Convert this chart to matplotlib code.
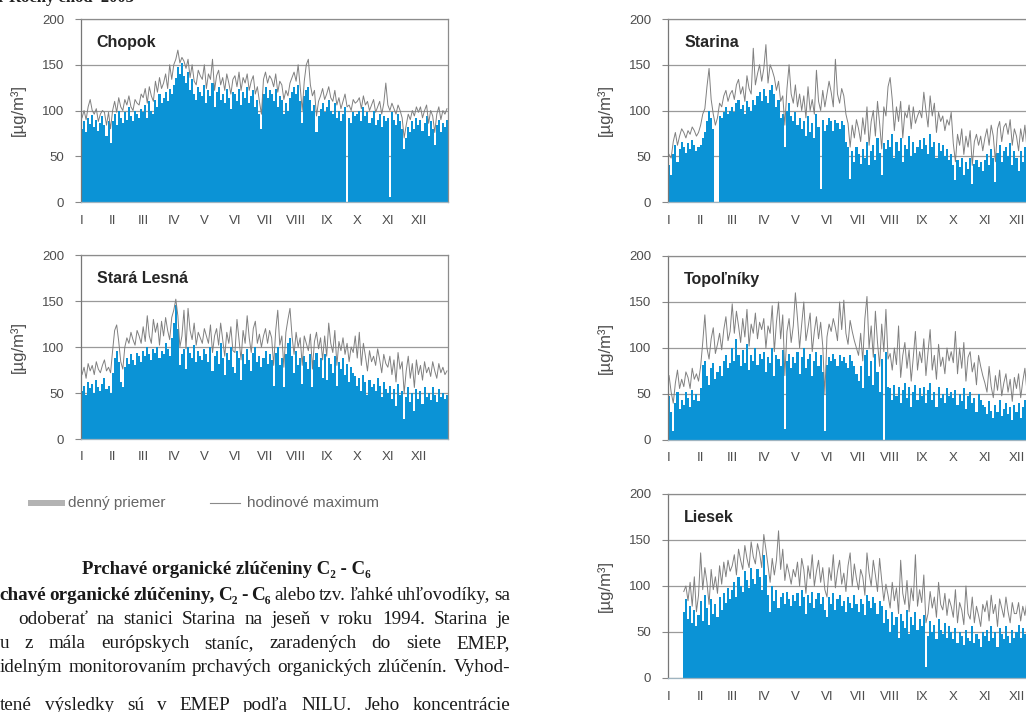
import numpy as np
import matplotlib.pyplot as plt

# Ročný chod 2003 - denný priemer (mean) a hodinové maximum (max), ~2-dňové kroky
months = ['I', 'II', 'III', 'IV', 'V', 'VI', 'VII', 'VIII', 'IX', 'X', 'XI', 'XII']

chopok_mean = [
    80, 88, 76, 92, 85, 95, 82, 90, 78, 86, 94, 84, 72, 88, 65,
    88, 96, 84, 100, 92, 86, 98, 90, 104, 94, 88, 100, 96, 92, 102,
    98, 106, 92, 110, 100, 96, 112, 104, 118, 108, 114, 120, 110, 124, 118,
    128, 136, 148, 140, 152, 138, 130, 142, 122, 134, 118, 112, 126, 120, 116,
    128, 108, 122, 116, 130, 104, 120, 126, 112, 118, 108, 124, 114, 102, 120,
    118, 110, 124, 106, 120, 114, 126, 108, 116, 122, 104, 112, 96, 80, 118,
    126, 114, 122, 118, 110, 124, 104, 116, 112, 96, 108, 100, 114, 120, 126,
    118, 128, 110, 86, 116, 122, 126, 112, 100, 106, 76, 94, 102, 108, 98,
    104, 112, 100, 96, 108, 92, 100, 88, 96, 104, 0, 92, 86, 98, 94,
    96, 100, 88, 104, 94, 98, 86, 92, 100, 84, 90, 96, 82, 94, 88,
    92, 6, 98, 90, 84, 96, 88, 80, 58, 70, 82, 76, 88, 80, 92,
    84, 90, 78, 86, 94, 72, 88, 80, 62, 84, 90, 76, 86, 82, 90]
chopok_max = [
    92, 100, 90, 104, 112, 100, 96, 102, 88, 96, 100, 98, 84, 98, 80,
    100, 110, 98, 114, 104, 100, 112, 106, 116, 104, 100, 112, 108, 106, 118,
    114, 124, 108, 126, 116, 110, 132, 120, 136, 124, 130, 140, 124, 150, 134,
    150, 156, 166, 152, 158, 154, 146, 156, 136, 150, 132, 128, 144, 138, 134,
    150, 124, 140, 134, 156, 122, 138, 144, 128, 136, 122, 140, 130, 118, 134,
    138, 126, 142, 122, 136, 130, 140, 122, 132, 138, 118, 126, 110, 96, 134,
    142, 130, 138, 134, 126, 140, 120, 132, 128, 112, 122, 116, 130, 136, 142,
    132, 150, 126, 100, 132, 150, 156, 128, 116, 122, 94, 110, 116, 124, 112,
    118, 126, 114, 110, 122, 106, 114, 102, 110, 118, 104, 106, 100, 112, 108,
    110, 114, 102, 116, 106, 110, 100, 106, 112, 98, 104, 110, 96, 108, 130,
    106, 100, 108, 102, 96, 106, 100, 92, 70, 84, 96, 90, 100, 94, 104,
    98, 104, 92, 100, 106, 86, 100, 94, 76, 96, 104, 90, 100, 96, 102]

lesna_mean = [
    52, 58, 48, 62, 55, 60, 50, 64, 56, 52, 60, 66, 54, 58, 50,
    72, 88, 96, 84, 62, 56, 78, 88, 82, 92, 86, 80, 94, 90, 84,
    96, 90, 100, 92, 86, 98, 94, 100, 88, 96, 92, 104, 98, 90, 110,
    126, 146, 120, 80, 92, 98, 76, 100, 94, 88, 102, 84, 96, 90, 86,
    98, 92, 84, 100, 74, 90, 96, 82, 104, 88, 70, 94, 86, 100, 78,
    72, 96, 88, 64, 92, 82, 98, 86, 74, 94, 100, 84, 90, 78, 88,
    96, 82, 92, 86, 58, 94, 100, 80, 88, 56, 92, 104, 110, 90, 72,
    96, 80, 88, 60, 90, 84, 76, 92, 56, 86, 94, 78, 88, 66, 92,
    64, 88, 82, 72, 90, 58, 84, 76, 88, 70, 82, 62, 78, 72, 68,
    58, 66, 52, 70, 62, 48, 64, 56, 60, 52, 66, 58, 46, 62, 54,
    50, 58, 44, 54, 36, 60, 48, 52, 22, 46, 56, 40, 50, 30, 54,
    44, 52, 38, 56, 46, 50, 42, 56, 48, 40, 54, 46, 50, 44, 48]
lesna_max = [
    70, 78, 66, 82, 74, 80, 70, 84, 76, 72, 80, 86, 74, 78, 72,
    96, 118, 124, 106, 84, 76, 100, 110, 104, 116, 108, 102, 118, 112, 104,
    122, 106, 134, 112, 104, 130, 116, 126, 102, 128, 112, 132, 118, 108, 132,
    140, 152, 134, 100, 112, 140, 98, 142, 118, 108, 126, 102, 116, 110, 104,
    120, 112, 104, 124, 94, 112, 120, 102, 126, 108, 90, 116, 104, 122, 96,
    94, 130, 108, 86, 118, 104, 134, 110, 94, 120, 128, 104, 114, 100, 112,
    120, 104, 118, 110, 80, 118, 140, 102, 112, 78, 116, 130, 142, 112, 92,
    116, 100, 110, 80, 112, 104, 96, 114, 76, 106, 116, 98, 110, 86, 112,
    90, 126, 104, 94, 118, 80, 106, 96, 110, 92, 104, 84, 100, 94, 112,
    88, 116, 80, 104, 90, 74, 96, 84, 90, 80, 98, 86, 72, 92, 82,
    78, 90, 70, 86, 62, 94, 76, 84, 50, 74, 90, 66, 82, 56, 86,
    70, 80, 64, 84, 72, 78, 68, 84, 74, 66, 82, 72, 78, 70, 74]

starina_mean = [
    40, 30, 52, 62, 44, 58, 66, 60, 54, 64, 58, 68, 62, 56, 60,
    62, 70, 76, 88, 100, 92, 80, 0, 0, 94, 92, 98, 104, 96, 100,
    104, 98, 108, 112, 102, 106, 96, 110, 104, 100, 112, 106, 116, 120, 110,
    124, 116, 108, 122, 128, 118, 104, 112, 92, 96, 60, 100, 108, 94, 88,
    98, 84, 92, 80, 88, 72, 94, 76, 86, 70, 96, 82, 14, 90, 78,
    84, 92, 88, 78, 90, 86, 80, 88, 84, 66, 60, 25, 56, 44, 60,
    52, 42, 58, 48, 66, 40, 56, 62, 46, 70, 54, 30, 64, 58, 68,
    60, 74, 48, 66, 56, 70, 44, 62, 58, 72, 50, 66, 54, 60, 68,
    58, 70, 62, 52, 74, 60, 66, 48, 64, 56, 62, 50, 58, 46, 52,
    40, 24, 46, 38, 48, 30, 44, 36, 48, 20, 42, 46, 38, 44, 34,
    46, 52, 40, 58, 48, 22, 54, 62, 44, 56, 60, 50, 64, 40, 56,
    48, 34, 56, 44, 60, 38, 52, 30, 48, 56, 42, 50, 36, 54, 46]
starina_max = [
    52, 48, 66, 76, 62, 72, 80, 76, 70, 78, 74, 82, 78, 72, 76,
    84, 96, 102, 126, 146, 112, 96, 84, 92, 108, 104, 116, 122, 110, 118,
    122, 112, 128, 134, 118, 126, 110, 138, 124, 118, 168, 128, 140, 150, 132,
    146, 172, 130, 150, 144, 136, 122, 132, 110, 116, 84, 124, 150, 118, 108,
    128, 104, 118, 100, 116, 92, 126, 100, 112, 96, 144, 110, 100, 122, 104,
    118, 132, 120, 104, 156, 118, 108, 124, 116, 96, 86, 60, 84, 70, 90,
    80, 66, 92, 74, 104, 62, 88, 100, 72, 110, 86, 58, 104, 94, 126,
    136, 112, 78, 104, 88, 110, 70, 98, 92, 106, 80, 104, 86, 94, 100,
    92, 120, 100, 82, 116, 94, 108, 76, 98, 88, 94, 78, 90, 84, 98,
    64, 44, 74, 62, 80, 52, 72, 60, 78, 40, 66, 74, 62, 72, 56,
    70, 80, 62, 84, 72, 44, 80, 88, 66, 82, 86, 74, 90, 62, 80,
    72, 56, 80, 66, 84, 58, 76, 52, 72, 80, 64, 74, 58, 78, 70]

topolniky_mean = [
    48, 30, 10, 40, 52, 34, 44, 38, 52, 46, 36, 54, 44, 50, 42,
    56, 82, 86, 70, 60, 78, 84, 66, 74, 80, 70, 86, 92, 78, 84,
    100, 86, 110, 92, 80, 98, 84, 104, 76, 92, 86, 100, 82, 94, 88,
    96, 74, 90, 84, 100, 70, 92, 88, 80, 98, 12, 86, 94, 78, 90,
    84, 96, 72, 90, 100, 78, 88, 94, 70, 86, 96, 80, 92, 74, 10,
    82, 90, 86, 94, 88, 80, 92, 86, 90, 84, 78, 92, 86, 80, 72,
    64, 80, 56, 92, 98, 70, 86, 60, 94, 74, 52, 88, 0, 96, 58,
    56, 44, 60, 48, 58, 40, 54, 62, 46, 58, 36, 52, 60, 44, 56,
    48, 58, 40, 54, 62, 44, 52, 36, 58, 46, 50, 40, 56, 48, 52,
    46, 54, 38, 50, 42, 56, 34, 48, 52, 40, 46, 30, 50, 44, 38,
    36, 28, 42, 32, 24, 38, 30, 44, 26, 34, 40, 28, 36, 22, 38,
    30, 40, 24, 36, 44, 28, 34, 20, 38, 42, 26, 32, 40, 22, 36]
topolniky_max = [
    70, 52, 40, 62, 76, 56, 66, 58, 74, 68, 56, 78, 66, 72, 64,
    80, 106, 136, 100, 88, 110, 122, 94, 104, 116, 98, 120, 134, 108, 118,
    148, 116, 140, 124, 106, 132, 112, 142, 102, 126, 116, 138, 110, 128, 120,
    132, 100, 124, 116, 146, 96, 128, 150, 110, 136, 70, 118, 132, 106, 124,
    160, 132, 100, 126, 150, 108, 122, 138, 96, 118, 134, 110, 128, 102, 50,
    112, 126, 118, 132, 122, 108, 150, 120, 152, 116, 104, 130, 118, 108, 100,
    92, 116, 86, 132, 156, 100, 124, 90, 140, 106, 80, 126, 96, 142, 88,
    94, 76, 100, 82, 124, 68, 92, 106, 78, 98, 64, 90, 118, 76, 96,
    84, 110, 70, 96, 120, 76, 92, 66, 104, 80, 90, 72, 100, 86, 96,
    84, 118, 72, 100, 78, 106, 64, 90, 96, 74, 84, 60, 92, 80, 70,
    62, 52, 80, 58, 46, 70, 54, 76, 48, 62, 72, 52, 66, 42, 68,
    56, 72, 46, 64, 78, 52, 62, 40, 68, 74, 48, 58, 72, 44, 64]

liesek_mean = [
    None, None, None, None, None, None, None, 72, 86, 64, 78, 60, 74, 56, 68,
    84, 62, 90, 76, 58, 86, 70, 80, 66, 88, 74, 92, 82, 98, 86,
    96, 104, 88, 110, 100, 94, 116, 106, 98, 120, 108, 102, 118, 110, 96,
    134, 112, 90, 72, 100, 84, 96, 76, 88, 92, 80, 94, 86, 78, 90,
    84, 92, 78, 96, 88, 70, 90, 82, 94, 76, 86, 92, 80, 88, 74,
    66, 88, 80, 92, 74, 86, 90, 78, 84, 72, 88, 82, 76, 90, 80,
    72, 86, 80, 68, 90, 84, 76, 88, 82, 70, 84, 78, 60, 74, 64,
    50, 72, 58, 66, 44, 70, 62, 54, 74, 48, 66, 58, 72, 52, 64,
    56, 68, 12, 46, 62, 50, 58, 42, 64, 52, 48, 60, 44, 56, 50,
    42, 54, 38, 50, 46, 36, 52, 44, 40, 56, 38, 48, 42, 34, 50,
    46, 52, 40, 56, 44, 50, 34, 54, 48, 42, 56, 46, 38, 52, 44,
    50, 58, 44, 54, 48, 60, 42, 56, 50, 46, 58, 52, 44, 56, 50]
liesek_max = [
    None, None, None, None, None, None, None, 94, 100, 84, 104, 78, 110, 72, 90,
    136, 96, 120, 104, 80, 118, 96, 110, 92, 122, 102, 126, 110, 128, 116,
    122, 134, 112, 140, 128, 118, 144, 130, 120, 148, 132, 124, 146, 136, 120,
    156, 140, 122, 104, 130, 112, 128, 160, 118, 140, 106, 124, 114, 102, 118,
    110, 126, 100, 130, 118, 92, 122, 108, 134, 100, 116, 128, 104, 120, 96,
    88, 120, 106, 134, 98, 116, 128, 102, 114, 94, 122, 136, 100, 124, 108,
    96, 118, 110, 90, 136, 114, 100, 128, 112, 94, 130, 106, 84, 102, 90,
    76, 104, 84, 98, 70, 128, 92, 80, 106, 72, 98, 84, 134, 78, 96,
    82, 112, 60, 70, 94, 76, 88, 66, 104, 80, 74, 92, 68, 86, 78,
    66, 96, 60, 82, 74, 58, 100, 70, 64, 88, 60, 78, 68, 56, 80,
    72, 84, 62, 90, 70, 80, 56, 86, 76, 66, 88, 72, 60, 82, 70,
    70, 82, 62, 78, 68, 84, 60, 80, 72, 64, 82, 74, 62, 80, 72]

W, H = 1026, 712
BLUE = '#0b93d6'
GRAY_LINE = '#808080'
TXT = '#4d4d4d'

fig = plt.figure(figsize=(W / 100, H / 100), dpi=100)
fig.patch.set_facecolor('white')


def px(x, y):
    return x / W, 1 - y / H


def panel(left, top, right, bottom, name, mean, hmax):
    x0, y0 = px(left, bottom)
    ax = fig.add_axes([x0, y0, (right - left) / W, (bottom - top) / H])
    mean = np.array(mean, dtype=float)
    hmax = np.array(hmax, dtype=float)
    w = 365 / len(mean)
    edges = np.arange(len(mean) + 1) * w
    # denný priemer ako súvislá plocha, hodinové maximum ako čiara
    ax.stairs(np.nan_to_num(mean), edges, fill=True, color=BLUE, lw=0, zorder=2)
    ax.plot(edges[:-1] + w / 2, hmax, color=GRAY_LINE, lw=0.7, zorder=3)
    ax.set_xlim(0, 365)
    ax.set_ylim(0, 200)
    ax.set_yticks([0, 50, 100, 150, 200])
    ax.yaxis.grid(True, color='#9a9a9a', lw=0.9)
    ax.set_axisbelow(True)
    ax.set_xticks([i * 365 / 12 + 1 for i in range(12)])
    ax.set_xticklabels(months)
    ax.tick_params(axis='x', length=0, pad=9, labelsize=9.5, labelcolor=TXT)
    ax.tick_params(axis='y', length=4, width=0.8, color='#888888', pad=8,
                   labelsize=9.5, labelcolor=TXT)
    for lab in ax.get_xticklabels() + ax.get_yticklabels():
        lab.set_family('Liberation Sans')
    ax.spines['left'].set_color('#777777')
    ax.spines['top'].set_color('#8c8c8c')
    ax.spines['right'].set_color('#8c8c8c')
    ax.spines['bottom'].set_color('#9fb4c0')
    for s in ax.spines.values():
        s.set_linewidth(0.9)
    ax.text(0.043, 0.87, name, transform=ax.transAxes, fontsize=11.5,
            fontweight='bold', color='#262626', va='center', family='Liberation Sans')
    fx, fy = px(left - 63, (top + bottom) / 2)
    fig.text(fx, fy, '[µg/m³]', rotation=90, ha='center', va='center',
             fontsize=12, color=TXT, family=['Liberation Sans', 'DejaVu Sans'])
    return ax


panel(81, 19, 448, 202, 'Chopok', chopok_mean, chopok_max)
panel(81, 255, 448, 439, 'Stará Lesná', lesna_mean, lesna_max)
panel(668, 19, 1047, 202, 'Starina', starina_mean, starina_max)
panel(668, 256, 1047, 440, 'Topoľníky', topolniky_mean, topolniky_max)
panel(668, 494, 1047, 678, 'Liesek', liesek_mean, liesek_max)

# legenda
lx, ly = px(28, 506)
fig.patches.append(plt.Rectangle((lx, ly), 37 / W, 6 / H, transform=fig.transFigure,
                                 color='#b3b3b3', lw=0))
fig.text(*px(68, 503), 'denný priemer', fontsize=11, color='#666666',
         va='center', family='Liberation Sans')
fig.lines.append(plt.Line2D([210 / W, 240 / W], [1 - 503 / H] * 2,
                            transform=fig.transFigure, color='#8a8a8a', lw=0.8))
fig.text(*px(247, 503), 'hodinové maximum', fontsize=11, color='#666666',
         va='center', family='Liberation Sans')

# nadpis hore (orezaný okrajom strany)
fig.text(*px(-2, -2), 'r Ročný chod  2003', fontsize=12, fontweight='bold',
         va='center', color='#222222', family='Liberation Serif')

SERIF = ['Liberation Serif', 'DejaVu Serif']
fig.text(*px(226, 570), 'Prchavé organické zlúčeniny C₂ - C₆', fontsize=13.5,
         fontweight='bold', ha='center', va='center', color='#1a1a1a', family=SERIF)

lines = [
    (595, -1, [('chavé', 'bold'), ('organické', 'bold'), ('zlúčeniny,', 'bold'),
               ('C₂', 'bold'), ('-', 'bold'), ('C₆', 'bold'), ('alebo', 'normal'),
               ('tzv.', 'normal'), ('ľahké', 'normal'), ('uhľovodíky,', 'normal'),
               ('sa', 'normal')]),
    (620, 18, [(t, 'normal') for t in
               'odoberať na stanici Starina na jeseň v roku 1994. Starina je'.split()]),
    (644, 0, [(t, 'normal') for t in
              'u z mála európskych staníc, zaradených do siete EMEP,'.split()]),
    (668, 0, [(t, 'normal') for t in
              'idelným monitorovaním prchavých organických zlúčenín. Vyhod-'.split()]),
    (705, 0, [(t, 'normal') for t in
              'tené výsledky sú v EMEP podľa NILU. Jeho koncentrácie'.split()]),
]

renderer = fig.canvas.get_renderer()
for y, xstart, tokens in lines:
    objs = [fig.text(0, 1 - y / H, t, fontsize=13.8, fontweight=wt, va='center',
                     color='#1a1a1a', family=SERIF) for t, wt in tokens]
    widths = [o.get_window_extent(renderer).width for o in objs]
    gap = max((510 - xstart - sum(widths)) / (len(objs) - 1), 2.5)
    xp = xstart
    for o, wd in zip(objs, widths):
        o.set_x(xp / W)
        xp += wd + gap

fig.savefig('out.png', dpi=100)
